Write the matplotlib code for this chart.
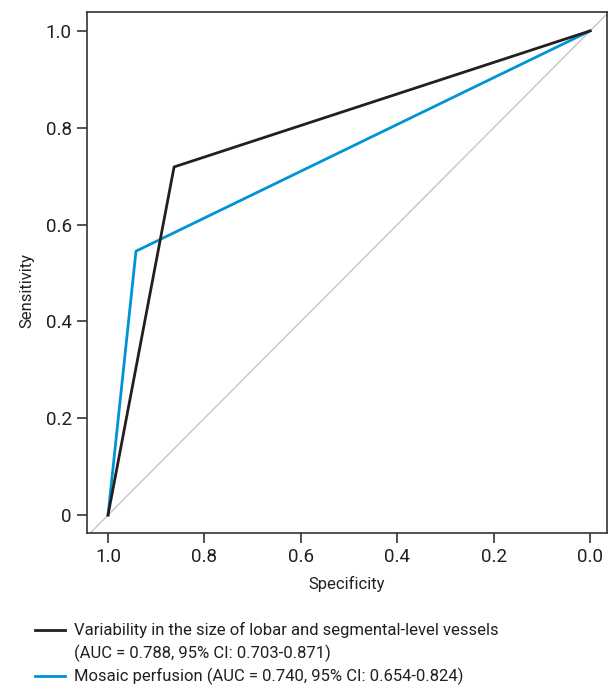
import matplotlib
matplotlib.use("Agg")
import matplotlib.pyplot as plt
from matplotlib.lines import Line2D

plt.rcParams['font.family'] = ['Roboto', 'DejaVu Sans']

# Data
spec_vessels = [1.0, 0.863, 0.0]
sens_vessels = [0.0, 0.719, 1.0]
spec_mosaic = [1.0, 0.942, 0.0]
sens_mosaic = [0.0, 0.545, 1.0]
label_vessels = ["Variability in the size of lobar and segmental-level vessels",
                 "(AUC = 0.788, 95% CI: 0.703-0.871)"]
label_mosaic = ["Mosaic perfusion (AUC = 0.740, 95% CI: 0.654-0.824)"]
xticks = [1.0, 0.8, 0.6, 0.4, 0.2, 0.0]
xticklabels = ["1.0", "0.8", "0.6", "0.4", "0.2", "0.0"]
yticks = [0.0, 0.2, 0.4, 0.6, 0.8, 1.0]
yticklabels = ["0", "0.2", "0.4", "0.6", "0.8", "1.0"]

BLACK = '#231f20'
BLUE = '#0093d6'

W, H = 608, 688
fig = plt.figure(figsize=(W / 100, H / 100), dpi=100)
ax = fig.add_axes([87/W, 155/H, 520/W, 521/H])

ax.plot([1.2, -0.2], [-0.2, 1.2], color='#c6c6c6', lw=1.0, zorder=1)
ax.plot(spec_vessels, sens_vessels, color=BLACK, lw=2.0, zorder=3)
ax.plot(spec_mosaic, sens_mosaic, color=BLUE, lw=2.0, zorder=2)

ax.set_xlim(1.0436, -0.035)
ax.set_ylim(-0.037, 1.039)
ax.set_xticks(xticks)
ax.set_xticklabels(xticklabels)
ax.set_yticks(yticks)
ax.set_yticklabels(yticklabels)
ax.tick_params(labelsize=13.5, length=7, width=1.2, color='#333333', labelcolor=BLACK, pad=4)
for s in ax.spines.values():
    s.set_color('#333333')
    s.set_linewidth(1.2)

ax.set_xlabel("Specificity", fontsize=12, color=BLACK, labelpad=7)
ax.set_ylabel("Sensitivity", fontsize=12, color=BLACK, va='center')
ax.yaxis.set_label_coords(-0.115, 0.466)

# Legend drawn manually (figure pixel coordinates from top)
def fy(py):
    return 1 - py / H

entries = [(BLACK, label_vessels, 630), (BLUE, label_mosaic, 676)]
for color, lines, y0 in entries:
    fig.add_artist(Line2D([35/W, 65/W], [fy(y0), fy(y0)], color=color, lw=2.0,
                          transform=fig.transFigure))
    for i, line in enumerate(lines):
        fig.text(74/W, fy(y0 + 23 * i), line, fontsize=12, color=BLACK,
                 ha='left', va='center')

fig.savefig("out.png", dpi=100)
